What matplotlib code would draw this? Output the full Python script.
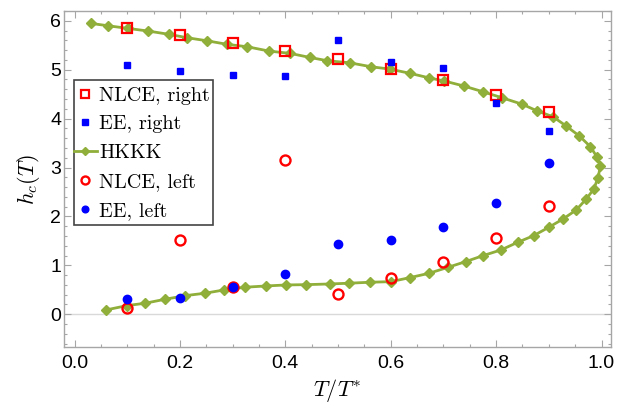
import matplotlib.pyplot as plt
from matplotlib.patches import Rectangle
from matplotlib.ticker import MultipleLocator

plt.rcParams['mathtext.fontset'] = 'cm'
plt.rcParams['font.family'] = ['Liberation Sans', 'DejaVu Sans']

# data
T_pts = [0.1, 0.2, 0.3, 0.4, 0.5, 0.6, 0.7, 0.8, 0.9]
nlce_right = [5.857, 5.708, 5.551, 5.381, 5.211, 5.013, 4.782, 4.482, 4.141]
ee_right = [5.095, 4.972, 4.890, 4.870, 5.610, 5.150, 5.040, 4.312, 3.752]
nlce_left = [0.123, 1.518, 0.552, 3.153, 0.415, 0.736, 1.075, 1.565, 2.213]
ee_left = [0.307, 0.327, 0.564, 0.817, 1.437, 1.518, 1.790, 2.269, 3.098]

# HKKK curve, upper branch -> turn -> lower branch
hkkk_T = [0.031, 0.064, 0.101, 0.140, 0.180, 0.214, 0.251, 0.290, 0.328, 0.369,
          0.409, 0.446, 0.480, 0.522, 0.563, 0.598, 0.637, 0.672, 0.702, 0.739,
          0.775, 0.811, 0.850, 0.877, 0.908, 0.933, 0.958, 0.979, 0.991, 0.998,
          0.993, 0.985, 0.971, 0.952, 0.927, 0.900, 0.871, 0.841, 0.809, 0.775,
          0.742, 0.709, 0.673, 0.636, 0.600, 0.560, 0.520, 0.484, 0.440, 0.402,
          0.363, 0.323, 0.284, 0.247, 0.210, 0.172, 0.134, 0.099, 0.060]
hkkk_h = [5.947, 5.898, 5.845, 5.790, 5.722, 5.653, 5.592, 5.518, 5.469, 5.381,
          5.334, 5.252, 5.183, 5.142, 5.060, 5.013, 4.925, 4.835, 4.768, 4.666,
          4.549, 4.427, 4.292, 4.161, 4.038, 3.848, 3.644, 3.425, 3.221, 3.031,
          2.779, 2.555, 2.356, 2.132, 1.948, 1.778, 1.606, 1.471, 1.314, 1.198,
          1.075, 0.961, 0.838, 0.748, 0.666, 0.654, 0.634, 0.619, 0.605, 0.599,
          0.578, 0.552, 0.497, 0.429, 0.380, 0.307, 0.225, 0.176, 0.088]

labels = ['NLCE, right', 'EE, right', 'HKKK', 'NLCE, left', 'EE, left']

green = '#8fae3a'
red = '#ff0000'
blue = '#0000ff'
gray = '#a6a6a6'

fig = plt.figure(figsize=(6.19, 4.11), dpi=100)
ax = fig.add_axes([0.1034, 0.1557, 0.8837, 0.8175])

ax.axhline(0, color='#d9d9d9', lw=1, zorder=0)

h1, = ax.plot(T_pts, nlce_right, 's', ms=7.2, mfc='none', mec=red, mew=1.6, zorder=4)
h2, = ax.plot(T_pts, ee_right, 's', ms=5, color=blue, zorder=4)
h3, = ax.plot(hkkk_T, hkkk_h, '-D', color=green, lw=2, ms=5.5, zorder=3)
h4, = ax.plot(T_pts, nlce_left, 'o', ms=7.2, mfc='none', mec=red, mew=1.7, zorder=4)
h5, = ax.plot(T_pts, ee_left, 'o', ms=6, color=blue, zorder=4)

ax.set_xlim(-0.02, 1.018)
ax.set_ylim(-0.67, 6.2)

ax.xaxis.set_minor_locator(MultipleLocator(0.05))
ax.yaxis.set_major_locator(MultipleLocator(1))
ax.yaxis.set_minor_locator(MultipleLocator(0.2))
ax.set_xticks([0, 0.2, 0.4, 0.6, 0.8, 1.0])
ax.set_xticklabels(['0.0', '0.2', '0.4', '0.6', '0.8', '1.0'])

ax.tick_params(which='both', direction='in', top=True, right=True, color=gray,
               labelsize=14, labelcolor='black')
ax.tick_params(which='major', length=4.8, width=0.8)
ax.tick_params(which='minor', length=2.5, width=0.8)
ax.tick_params(axis='x', pad=6)
ax.tick_params(axis='y', pad=2)
for s in ax.spines.values():
    s.set_color(gray)
    s.set_linewidth(1)

ax.set_xlabel(r'$T/T^{*}$', fontsize=16, labelpad=3)
ax.set_ylabel(r'$h_c(T)$', fontsize=16, labelpad=6)

# legend box drawn by hand, the legend itself has no frame
box = Rectangle((0.0183, 0.3631), 0.2535, 0.4315, transform=ax.transAxes,
                facecolor='white', edgecolor='#444444', lw=1.2, zorder=5)
ax.add_patch(box)
leg = ax.legend([h1, h2, h3, h4, h5], labels,
                loc='upper left', bbox_to_anchor=(0.0183, 0.775),
                prop={'family': 'cmr10', 'size': 14.5},
                handlelength=1.13, handletextpad=0.13, borderpad=0,
                labelspacing=0.53, borderaxespad=0, markerscale=0.8,
                frameon=False)
leg.set_zorder(6)

fig.savefig('out.png', dpi=100)
